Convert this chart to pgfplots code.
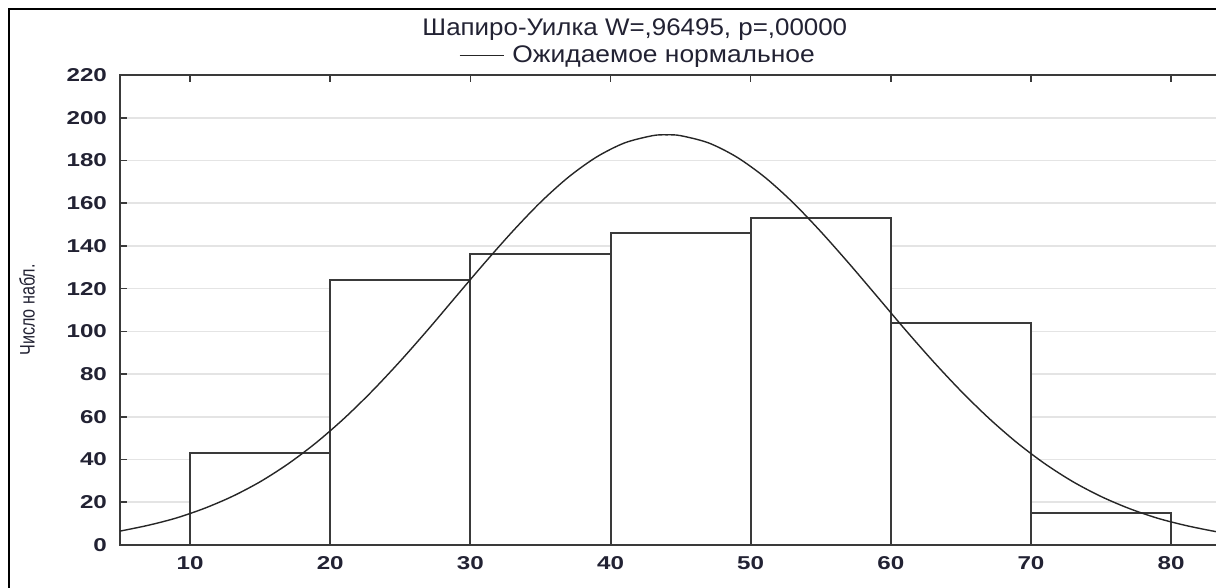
\documentclass[border=0pt]{standalone}
\usepackage{fontspec}
\setmainfont{Liberation Sans}
\newfontfamily\tickfont[FakeStretch=1.3]{Liberation Sans}
\newfontfamily\titlefont[FakeStretch=1.08]{Liberation Sans}
\newfontfamily\legfont[FakeStretch=1.1]{Liberation Sans}
\newfontfamily\labfont[FakeStretch=0.77]{Liberation Sans}
\usepackage{pgfplots}
\pgfplotsset{compat=1.18}
\definecolor{gridgray}{HTML}{E4E4E4}
\definecolor{axgray}{HTML}{3A3A3A}
\definecolor{txt}{HTML}{222233}
\begin{document}
\begin{tikzpicture}
\useasboundingbox (-60pt,-21.5pt) rectangle (548pt,272.5pt);
\draw[line width=1pt, black] (-55.5pt,-40pt) -- (-55.5pt,268pt) -- (600pt,268pt);
\begin{axis}[
  at={(0pt,0pt)}, anchor=south west,
  scale only axis,
  width=553.6pt, height=235pt,
  xmin=5, xmax=84, ymin=0, ymax=220,
  xtick={10,20,30,40,50,60,70,80},
  ytick={0,20,...,220},
  ytick pos=left,
  tick align=inside,
  major tick length=3.5pt,
  tick style={axgray, line width=0.8pt},
  axis line style={axgray, line width=0.9pt},
  ymajorgrids,
  grid style={gridgray, line width=0.8pt},
  /pgf/number format/assume math mode=true,
  ticklabel style={font=\tickfont\bfseries\fontsize{9.3}{10}\selectfont, text=txt},
  yticklabel style={xshift=-3pt},
  xticklabel style={yshift=-2pt},
  title={Шапиро-Уилка W=,96495, p=,00000},
  title style={at={(axis description cs:0.465,1)}, anchor=base, yshift=13.5pt, font=\titlefont\fontsize{12}{13}\selectfont, text=txt},
  ylabel={Число набл.},
  ylabel style={at={(axis description cs:-0.084,0.5)}, anchor=center, font=\labfont\fontsize{10.5}{11}\selectfont, text=txt},
  legend style={at={(axis description cs:0.4705,1.042)}, anchor=center, draw=none, fill=none, font=\legfont\fontsize{12}{13}\selectfont, text=txt, inner sep=0pt, nodes={inner xsep=4pt}},
  legend image code/.code={\draw[#1] (0pt,0pt) -- (22pt,0pt);},
]
\addplot[ybar interval, draw=axgray, fill=white, line width=1pt, forget plot]
  coordinates {(10,43) (20,124) (30,136) (40,146) (50,153) (60,104) (70,15) (80,15)};
\addplot[smooth, black!85, line width=0.7pt] coordinates {
(5,6.5) (7,9.2) (9,12.6) (11,17.1) (13,22.7) (15,29.6) (17,38.0) (19,47.9)
(21,59.3) (23,72.1) (25,86.1) (27,101.0) (29,116.5) (31,131.9) (33,146.7)
(35,160.4) (37,172.2) (39,181.6) (41,188.2) (43,191.6) (44,192) (45,191.6)
(47,188.2) (49,181.6) (51,172.2) (53,160.4) (55,146.7) (57,131.9) (59,116.5)
(61,101.0) (63,86.1) (65,72.1) (67,59.3) (69,47.9) (71,38.0) (73,29.6)
(75,22.7) (77,17.1) (79,12.6) (81,9.2) (83,6.5) (84,5.5)};
\addlegendentry{Ожидаемое нормальное}
\end{axis}
\end{tikzpicture}
\end{document}
